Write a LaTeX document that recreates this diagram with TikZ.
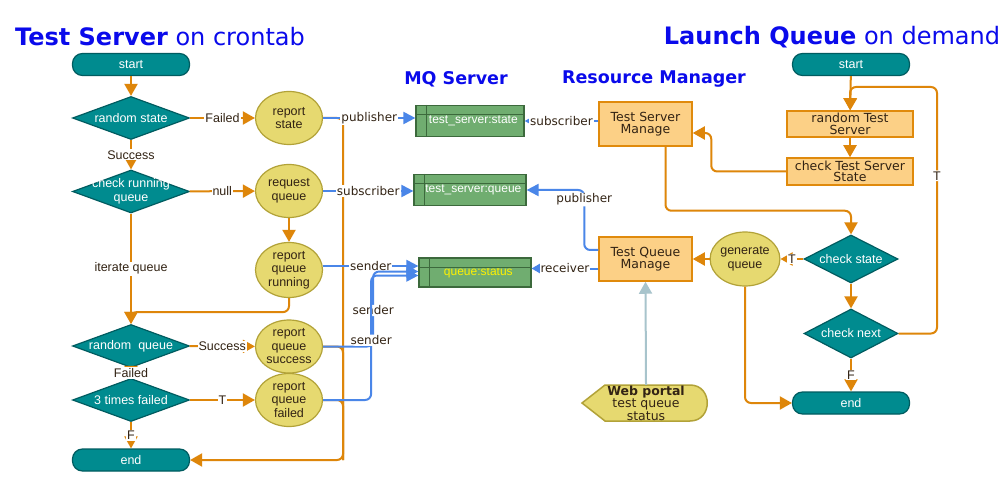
\documentclass[tikz,border=0pt]{standalone}
\usepackage{fontspec}
\setmainfont{Liberation Sans}
\newfontfamily\verdfont{DejaVu Sans}
\usetikzlibrary{shapes.geometric,arrows.meta}
\definecolor{tealfill}{RGB}{0,139,143}
\definecolor{tealline}{RGB}{0,92,96}
\definecolor{flowline}{RGB}{222,134,10}
\definecolor{linkline}{RGB}{74,134,232}
\definecolor{ellfill}{RGB}{230,217,112}
\definecolor{ellline}{RGB}{178,162,56}
\definecolor{boxfill}{RGB}{252,208,134}
\definecolor{boxline}{RGB}{224,138,12}
\definecolor{qfill}{RGB}{112,173,112}
\definecolor{qline}{RGB}{60,105,60}
\definecolor{titleblue}{RGB}{10,10,235}
\definecolor{lbltext}{RGB}{50,35,20}
\definecolor{portline}{RGB}{168,196,204}
\tikzset{
  term/.style={draw=tealline, fill=tealfill, line width=1.2pt, rounded corners=10pt,
    minimum width=117pt, minimum height=22pt, inner sep=0pt, text=white,
    font=\fontsize{12.5}{14}\selectfont},
  dec/.style={diamond, draw=tealline, fill=tealfill, line width=1.2pt, inner sep=0pt,
    minimum width=117pt, minimum height=43pt},
  dectext/.style={text=white, align=center, font=\fontsize{12.5}{14}\selectfont},
  act/.style={ellipse, draw=ellline, fill=ellfill, line width=1.2pt, inner sep=0pt,
    minimum width=67pt, minimum height=53pt, align=center, text=lbltext,
    font=\fontsize{12.5}{13.5}\selectfont},
  mgr/.style={draw=boxline, fill=boxfill, line width=1.5pt, minimum width=93pt,
    minimum height=44pt, inner sep=1pt, align=center, text=lbltext,
    font=\verdfont\fontsize{12.5}{11.5}\selectfont},
  queue/.style={draw=qline, fill=qfill, line width=1.2pt, minimum height=31pt,
    inner sep=0pt, text=white, font=\fontsize{12}{14}\selectfont},
  flow/.style={draw=flowline, line width=2pt, -{Triangle[length=12pt,width=13pt]}},
  bus/.style={draw=flowline, line width=2pt, rounded corners=6pt},
  link/.style={draw=linkline, line width=2pt, -{Triangle[length=12pt,width=12pt]}},
  lbl/.style={fill=white, inner sep=1pt, text=lbltext, font=\fontsize{12.5}{14}\selectfont},
  mqlbl/.style={lbl, font=\verdfont\fontsize{12}{14}\selectfont},
  title/.style={text=titleblue, font=\verdfont\fontsize{24}{27}\selectfont},
  subtitle/.style={text=titleblue, font=\verdfont\bfseries\fontsize{17.5}{20}\selectfont},
}
\begin{document}
\begin{tikzpicture}
   \begin{scope}[x=1pt,y=-1pt]
   \fill[white] (0,0) rectangle (1003,486);
   \useasboundingbox (0,0) rectangle (1003,486);
   \node[title] (ttl1) at (160,37) {\textbf{Test Server} on crontab};
   \node[title] (ttl2) at (832,37) {\textbf{Launch Queue} on demand};
   \node[subtitle] (ttl3) at (456,79) {MQ Server};
   \node[subtitle] (ttl4) at (654,79) {Resource Manager};

   \node[term] (s1) at (131,64.5) {start};
   \node[dec, label={[dectext]center:random state}] (rs) at (131,118) {};
   \node[dec, label={[dectext]center:check running\\queue}] (cr) at (131,191.5) {};
   \node[dec, label={[dectext]center:random\ \ queue}] (rnd) at (131,346) {};
   \node[dec, label={[dectext]center:3 times failed}] (tf) at (131,400) {};
   \node[term] (e1) at (131,460) {end};

   \node[act] (rst) at (289,118) {report\\state};
   \node[act] (rq) at (289,191) {request\\queue};
   \node[act, minimum height=55pt] (rqr) at (289,270) {report\\queue\\running};
   \node[act] (rqs) at (289,346.5) {report\\queue\\success};
   \node[act] (rqf) at (289,400) {report\\queue\\failed};

   \node[queue, minimum width=108pt] (tss) at (470,121) {\ \ test\_server:state};
   \node[queue, minimum width=112pt] (tsq) at (470,190) {\ \ test\_server:queue};
   \node[queue, minimum width=112pt, minimum height=29pt, text=yellow] (qs) at (475,272.5) {\ \ queue:status};
   \foreach \q in {tss,tsq,qs} {
     \draw[qline, line width=1.2pt] ([xshift=11pt]\q.north west) -- ([xshift=11pt]\q.south west);
     \draw[qline, line width=1.2pt] ([yshift=-10pt]\q.north west) -- ([yshift=-10pt]\q.north east);
   }

   \node[mgr] (tsm) at (645.5,124) {Test Server\\Manage};
   \node[mgr] (tqm) at (645.5,259) {Test Queue\\Manage};
   \draw[draw=ellline, fill=ellfill, line width=1.5pt]
     (582,403) -- (605,385) -- (690,385) .. controls (713,385) and (713,421) .. (690,421)
     -- (605,421) -- cycle;
   \node[minimum width=126pt, minimum height=36pt, inner sep=0pt, align=center, text=lbltext,
     font=\verdfont\fontsize{12.5}{10.5}\selectfont] (wp) at (646,403) {\textbf{Web portal}\\test queue\\status};

   \node[term] (s2) at (851,64.5) {start};
   \node[mgr, minimum width=126pt, minimum height=26pt, inner sep=0pt] (rts) at (850,124) {random Test\\Server};
   \node[mgr, minimum width=126pt, minimum height=27pt, inner sep=0pt] (cts) at (850,171.5) {check Test Server\\State};
   \node[dec, minimum width=94pt, minimum height=48pt, label={[dectext]center:check state}] (cs) at (851,259) {};
   \node[dec, minimum width=94pt, minimum height=49pt, label={[dectext]center:check next}] (cn) at (851,333.5) {};
   \node[term] (e2) at (851,403) {end};
   \node[act, minimum width=66pt, minimum height=54pt] (gq) at (745,259) {generate\\queue};

   \draw[flow] (s1) -- (rs);
   \draw[flow] (rs) -- node[lbl] {Failed} (rst);
   \draw[flow] (rs) -- node[lbl] {Success} (cr);
   \draw[flow] (cr) -- node[lbl] {null} (rq);
   \draw[flow] (rq) -- (rqr);
   \draw[flow] (cr) -- node[lbl] {iterate queue} (rnd);
   \draw[flow, rounded corners=6pt] (rqr.south) -- ++(0,14) -| (rnd.north);
   \draw[flow] (rnd) -- node[lbl] {Success} (rqs);
   \draw[flow] (rnd) -- node[lbl] {Failed} (tf);
   \draw[flow] (tf) -- node[lbl] {T} (rqf);
   \draw[flow] (tf) -- node[lbl] {F} (e1);
   \coordinate (busend) at (343,460);
   \draw[bus] (rqs.east) -| (busend);
   \draw[bus] (rqf.east) -| (busend);
   \draw[flow, rounded corners=6pt] (rst.east) -| (busend) -- (e1.east);

   \draw[link] (rst.east) -- node[mqlbl] {publisher} (rst.east -| tss.west);
   \draw[link] (rq.east) -- node[mqlbl] {subscriber} (rq.east -| tsq.west);
   \draw[link] ([yshift=4pt]rqr.east) -- node[mqlbl] {sender} ([yshift=4pt]rqr.east -| qs.west);
   \draw[link, rounded corners=6pt] (rqs.east) -- ++(50,0) |- node[mqlbl, pos=0.24] {sender} ([yshift=1pt]qs.west);
   \draw[link, rounded corners=6pt] (rqf.east) -- ++(48,0) |- node[mqlbl, pos=0.24] {sender} ([yshift=-3pt]qs.west);
   \draw[link, -{Triangle[length=5pt,width=5pt]}] (tss.east -| tsm.west) -- node[mqlbl] {subscriber} (tss.east);
   \draw[link, rounded corners=6pt] ([yshift=9pt]tqm.west) -- ++(-14,0) |- node[mqlbl, pos=0.42] {publisher} (tsq.east);
   \draw[link, -{Triangle[length=9pt,width=10pt]}] ([yshift=4pt]qs.east -| tqm.west) -- node[mqlbl] {receiver} ([yshift=4pt]qs.east);
   \draw[draw=portline, line width=2pt, -{Triangle[length=12pt,width=13pt]}] (wp.north) -- (tqm.south);

   \draw[flow] (s2) -- (rts);
   \draw[flow] (rts) -- (cts);
   \draw[flow, rounded corners=6pt] (cts.west) -- ++(-75,0) |- ([yshift=-9pt]tsm.east);
   \draw[flow, rounded corners=6pt] ([xshift=20pt]tsm.south) -- ++(0,64) -| (cs.north);
   \draw[flow] (cs) -- node[lbl] {T} (gq);
   \draw[flow] (gq) -- (tqm);
   \draw[flow] (cs) -- (cn);
   \draw[flow] (cn) -- node[lbl] {F} (e2);
   \draw[flow, rounded corners=6pt] (gq.south) |- (e2.west);
   \coordinate (loop) at (937,87);
   \draw[flow, rounded corners=6pt] (cn.east) -| node[lbl, pos=0.82] {T} (loop) -| (rts.north);
   \end{scope}
 \end{tikzpicture}
\end{document}
